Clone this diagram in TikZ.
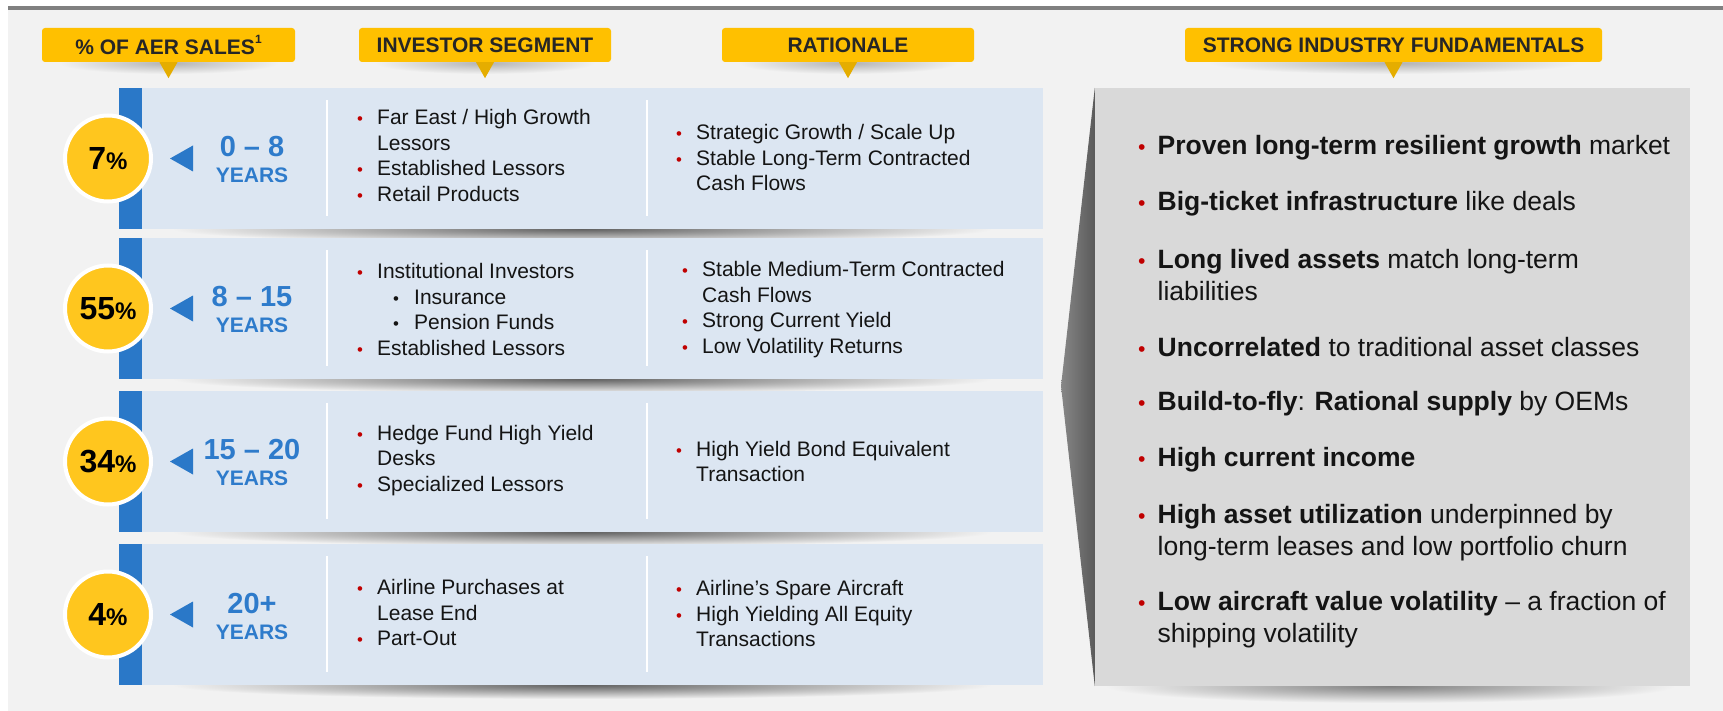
\documentclass[tikz,border=0pt]{standalone}
\usepackage{fontspec}
\usepackage{graphicx}
\setmainfont{Liberation Sans}
\setsansfont{Liberation Sans}
\usetikzlibrary{calc,positioning}

\definecolor{bgc}{HTML}{F2F2F2}
\definecolor{lnc}{HTML}{808080}
\definecolor{rowc}{HTML}{DCE6F2}
\definecolor{stripc}{HTML}{2A78C8}
\definecolor{labc}{HTML}{FFC000}
\definecolor{circc}{HTML}{FFC61E}
\definecolor{panc}{HTML}{D9D9D9}
\definecolor{bred}{HTML}{C00000}
\definecolor{hdtxt}{HTML}{262626}
\definecolor{yrc}{HTML}{2E7BCB}
\definecolor{txc}{HTML}{141414}
\definecolor{wl}{HTML}{878787}
\definecolor{wr}{HTML}{5A5A5A}

\newcommand{\bl}{\makebox[20pt][l]{\textcolor{bred}{\scalebox{0.8}{•}}}}
\newcommand{\sbl}{\hspace*{36pt}\makebox[21pt][l]{\scalebox{0.8}{•}}}
\newcommand{\ind}{\hspace*{20pt}}
\newcommand{\bb}{\makebox[19.5pt][l]{\textcolor{bred}{\scalebox{0.8}{•}}}}
\newcommand{\bind}{\hspace*{19.5pt}}
\newcommand{\pct}[1]{{\fontsize{32}{32}\selectfont #1}{\fontsize{24}{24}\selectfont\%}}
\newcommand{\fnm}{\raisebox{0.55em}{\fontsize{12}{12}\selectfont 1}}

\tikzset{ hd/.style = { fill            = labc
                      , rounded corners = 3pt
                      , minimum height  = 34pt
                      , inner sep       = 0pt
                      , text            = hdtxt
                      , font            = \fontsize{21}{25}\selectfont\bfseries
                      },
          rw/.style = { fill           = rowc
                      , minimum width  = 924pt
                      , minimum height = 141pt
                      , inner sep      = 0pt
                      },
          pn/.style = { fill           = panc
                      , minimum width  = 595pt
                      , minimum height = 598pt
                      , inner sep      = 0pt
                      },
          pc/.style = { circle
                      , fill         = circc
                      , draw         = white
                      , line width   = 4pt
                      , minimum size = 86pt
                      , inner sep    = 0pt
                      , text         = black
                      , font         = \bfseries
                      },
          yn/.style = { inner sep = 0pt
                      , text      = yrc
                      , font      = \fontsize{29}{29}\selectfont\bfseries
                      },
          ys/.style = { inner sep = 0pt
                      , text      = yrc
                      , font      = \fontsize{21}{21}\selectfont\bfseries
                      },
          cl/.style = { anchor    = west
                      , align     = left
                      , inner sep = 0pt
                      , text      = txc
                      , font      = \fontsize{21}{25.5}\selectfont
                      },
          fd/.style = { anchor    = west
                      , align     = left
                      , inner sep = 0pt
                      , text      = txc
                      , font      = \fontsize{26.5}{32}\selectfont
                      }
        }

\begin{document}
\begin{tikzpicture}[x=1pt, y=-1pt, font=\sffamily]
\useasboundingbox (0,0) rectangle (1723,711);
\fill[white] (0,0) rectangle (1723,711);
\fill[lnc] (8,6) rectangle (1723,10);
\fill[bgc] (8,10) rectangle (1723,711);

% header shadows
\foreach \x/\r in {168.5/110, 485/110, 848/110, 1393.5/185}
  \shade[inner color=black!30, outer color=bgc] (\x,63) ellipse [x radius=\r pt, y radius=11pt];

\node[hd, minimum width=253pt] (h1) at (168.5,45) {\% OF AER SALES\fnm};
\node[hd, minimum width=252pt] (h2) at (485,45) {INVESTOR SEGMENT};
\node[hd, minimum width=252pt] (h3) at (848,45) {RATIONALE};
\node[hd, minimum width=417pt] (h4) at (1393.5,45) {STRONG INDUSTRY FUNDAMENTALS};
\foreach \h in {h1,h2,h3,h4}
  \fill[labc!90!black] ($(\h.south)+(-9,0)$) -- ($(\h.south)+(9,0)$) -- ($(\h.south)+(0,16)$) -- cycle;

% shadows under the rows and the panel
\foreach \b in {229,379,532,685}
  \shade[inner color=black!62, outer color=bgc] (582,\b) ellipse [x radius=410pt, y radius=14pt];
\shade[inner color=black!50, outer color=bgc] (1390,686) ellipse [x radius=285pt, y radius=17pt];

\foreach \i/\c in {1/158.5, 2/308.5, 3/461.5, 4/614.5} {
  \node[rw] (r\i) at (581,\c) {};
  \fill[stripc] (r\i.north west) rectangle ($(r\i.south west)+(23,0)$);
  \draw[white, line width=2.3pt] ($(r\i.north west)+(208,12)$) -- ($(r\i.south west)+(208,-13)$);
  \draw[white, line width=2.3pt] ($(r\i.north west)+(528,12)$) -- ($(r\i.south west)+(528,-13)$);
  \fill[stripc] (170,\c) -- (193,\c-13) -- (193,\c+13) -- cycle;
}

\node[pc] (p1) at (108,158.5) {\pct{7}};
\node[pc] (p2) at (108,308.5) {\pct{55}};
\node[pc] (p3) at (108,461.5) {\pct{34}};
\node[pc] (p4) at (108,614.5) {\pct{4}};

\node[yn] (n1) at (252,146.5) {0 \textendash{} 8};
\node[ys, below=11pt of n1] (y1) {YEARS};
\node[yn] (n2) at (252,296.5) {8 \textendash{} 15};
\node[ys, below=11pt of n2] (y2) {YEARS};
\node[yn] (n3) at (252,449.5) {15 \textendash{} 20};
\node[ys, below=11pt of n3] (y3) {YEARS};
\node[yn] (n4) at (252,603.5) {20+};
\node[ys, below=11pt of n4] (y4) {YEARS};

% investor segment
\node[cl] (s1) at (357,155.5) {\bl Far East / High Growth\\ \ind Lessors\\ \bl Established Lessors\\ \bl Retail Products};
\node[cl] (s2) at (357,309.5) {\bl Institutional Investors\\ \sbl Insurance\\ \sbl Pension Funds\\ \bl Established Lessors};
\node[cl] (s3) at (357,460.5) {\bl Hedge Fund High Yield\\ \ind Desks\\ \bl Specialized Lessors};
\node[cl] (s4) at (357,612.5) {\bl Airline Purchases at\\ \ind Lease End\\ \bl Part-Out};

% rationale
\node[cl] (q1) at (676,157.5) {\bl Strategic Growth / Scale Up\\ \bl Stable Long-Term Contracted\\ \ind Cash Flows};
\node[cl] (q2) at (682,309.5) {\bl Stable Medium-Term Contracted\\ \ind Cash Flows\\ \bl Strong Current Yield\\ \bl Low Volatility Returns};
\node[cl] (q3) at (676,461.5) {\bl High Yield Bond Equivalent\\ \ind Transaction};
\node[cl] (q4) at (676,613.5) {\bl Airline’s Spare Aircraft\\ \bl High Yielding All Equity\\ \ind Transactions};

% fundamentals panel
\node[pn] (pan) at (1392.5,387) {};
\shade[left color=wl, right color=wr] (pan.north west) -- (1061,386) -- (pan.south west) -- cycle;

\node[fd] (f1) at (1138,147.5) {\bb\textbf{Proven long-term resilient growth} market};
\node[fd] (f2) at (1138,203.5) {\bb\textbf{Big-ticket infrastructure} like deals};
\node[fd] (f3) at (1138,275.5) {\bb\textbf{Long lived assets} match long-term\\ \bind liabilities};
\node[fd] (f4) at (1138,347.5) {\bb\textbf{Uncorrelated} to traditional asset classes};
\node[fd] (f5) at (1138,403.5) {\bb\textbf{Build-to-fly}: \textbf{Rational supply} by OEMs};
\node[fd] (f6) at (1138,459.5) {\bb\textbf{High current income}};
\node[fd] (f7) at (1138,532.5) {\bb\textbf{High asset utilization} underpinned by\\ \bind long-term leases and low portfolio churn};
\node[fd] (f8) at (1138,620) {\bb\textbf{Low aircraft value volatility} \textendash{} a fraction of\\ \bind shipping volatility};
\end{tikzpicture}
\end{document}
